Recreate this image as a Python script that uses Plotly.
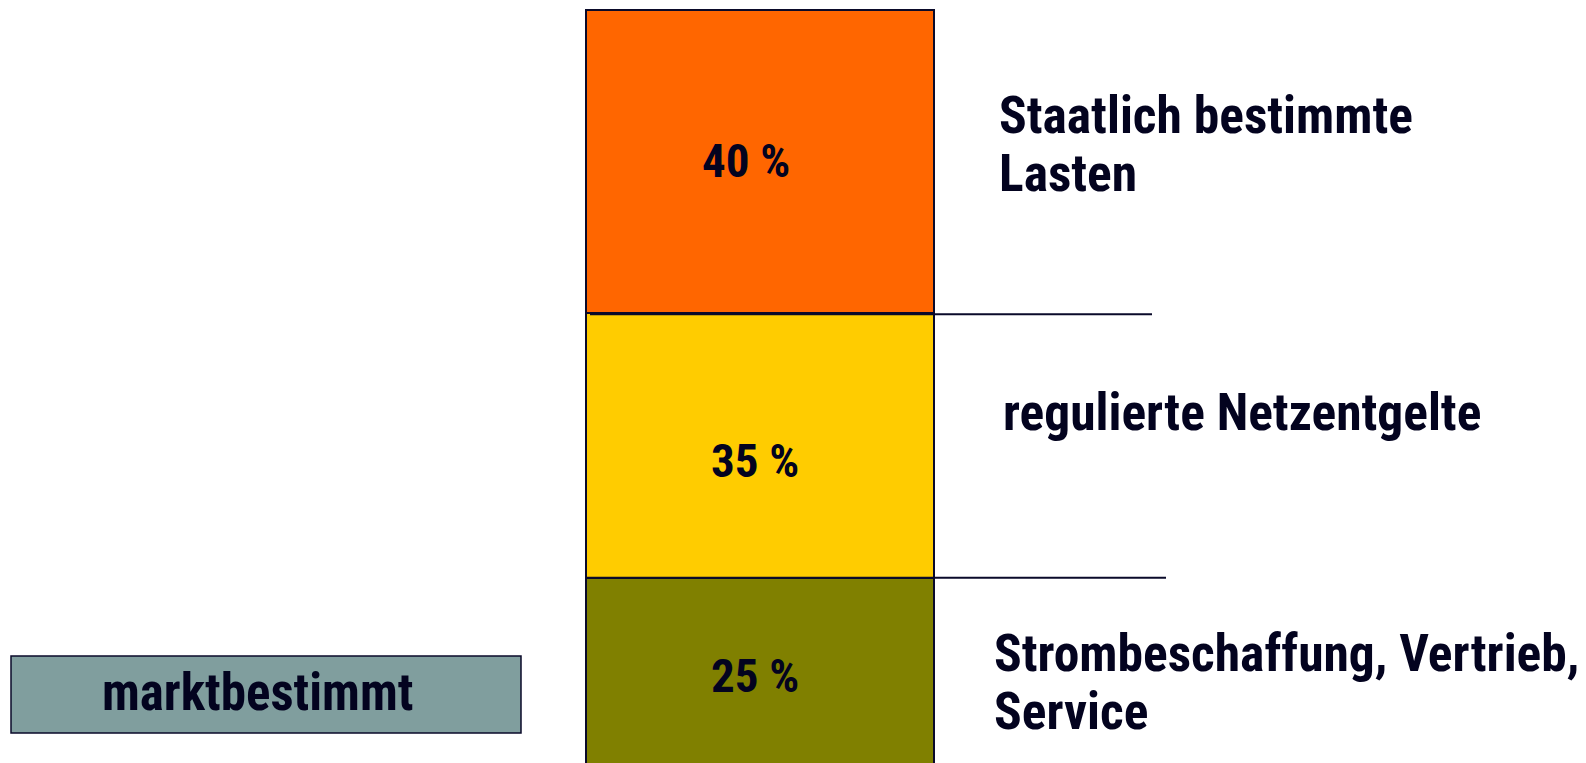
import plotly.graph_objects as go

# ---- data ----
categories = ["Strombeschaffung, Vertrieb,<br>Service", "regulierte Netzentgelte", "Staatlich bestimmte<br>Lasten"]
values = [25, 35, 40]
value_labels = ["25 %", "35 %", "40 %"]
colors = ["#808000", "#FFCC00", "#FF6600"]
side_label = "marktbestimmt"

# ---- layout helpers (page pixels; the page body has an 8px margin) ----
OFF = 8
W, H = 1586 - OFF, 763 - OFF
TXT = "#03031f"
EDGE = "#0a0a2a"
FONT = "Roboto Condensed, Liberation Sans, Arial, sans-serif"

PX_PER = 7.57          # pixels per percent
ZERO_PAGE = 767        # page y of the 0 % baseline
y_lo = (ZERO_PAGE - OFF - H) / PX_PER
y_hi = (ZERO_PAGE - OFF) / PX_PER


def page_y(py):
    return (ZERO_PAGE - py) / PX_PER


def page_x(px):
    return px - OFF


fig = go.Figure()
bar_x = page_x(760)
bar_w = 348
for cat, v, c in zip(categories, values, colors):
    fig.add_trace(go.Bar(x=[bar_x], y=[v], width=[bar_w], name=cat,
                         marker=dict(color=c, line=dict(color=EDGE, width=1.5)),
                         hoverinfo="skip", showlegend=False))

annotations = []
shapes = []

# percentage labels inside segments
pct_xshift = [-5, -5.5, -14]
pct_yshift = [-3, -15, 1]
cum = 0
for i, (v, lab) in enumerate(zip(values, value_labels)):
    mid = cum + v / 2
    annotations.append(dict(x=bar_x, y=mid, text=lab, showarrow=False,
                            xanchor="center", yanchor="middle",
                            xshift=pct_xshift[i], yshift=pct_yshift[i],
                            font=dict(family=FONT, size=47, color=TXT, weight="bold")))
    cum += v

# category labels to the right (one annotation per line)
cat_left = [992, 1001, 997]
cat_first_line = [653, 412, 115]
LINE_GAP = 58
for i, cat in enumerate(categories):
    for j, line in enumerate(cat.split("<br>")):
        annotations.append(dict(x=page_x(cat_left[i]), y=page_y(cat_first_line[i] + j * LINE_GAP),
                                text=line, showarrow=False, xanchor="left", yanchor="middle",
                                font=dict(family=FONT, size=51.5, color=TXT, weight="bold")))

# separator lines at segment boundaries
bounds = [values[0], values[0] + values[1]]
line_starts = [bar_x - bar_w / 2, bar_x - bar_w / 2 + 4]
line_ends = [page_x(1166), page_x(1152)]
line_drop = [0, 0.2]
for b, x0, x1, d in zip(bounds, line_starts, line_ends, line_drop):
    shapes.append(dict(type="line", xref="x", yref="y", x0=x0, x1=x1, y0=b - d, y1=b - d,
                       line=dict(color=EDGE, width=2)))

# side box
shapes.append(dict(type="rect", xref="x", yref="y", x0=page_x(11), x1=page_x(521),
                   y0=page_y(733), y1=page_y(656),
                   fillcolor="#809E9E", line=dict(color=EDGE, width=1.5)))
annotations.append(dict(x=page_x(257), y=page_y(692), text=side_label,
                        showarrow=False, xanchor="center", yanchor="middle",
                        font=dict(family=FONT, size=51, color=TXT, weight="bold")))

fig.update_layout(
    width=W, height=H, margin=dict(l=0, r=0, t=0, b=0),
    paper_bgcolor="white", plot_bgcolor="white", barmode="stack",
    xaxis=dict(range=[0, W], visible=False, fixedrange=True),
    yaxis=dict(range=[y_lo, y_hi], visible=False, fixedrange=True),
    shapes=shapes, annotations=annotations,
)
fig.write_html("out.html", config={"displayModeBar": False})
